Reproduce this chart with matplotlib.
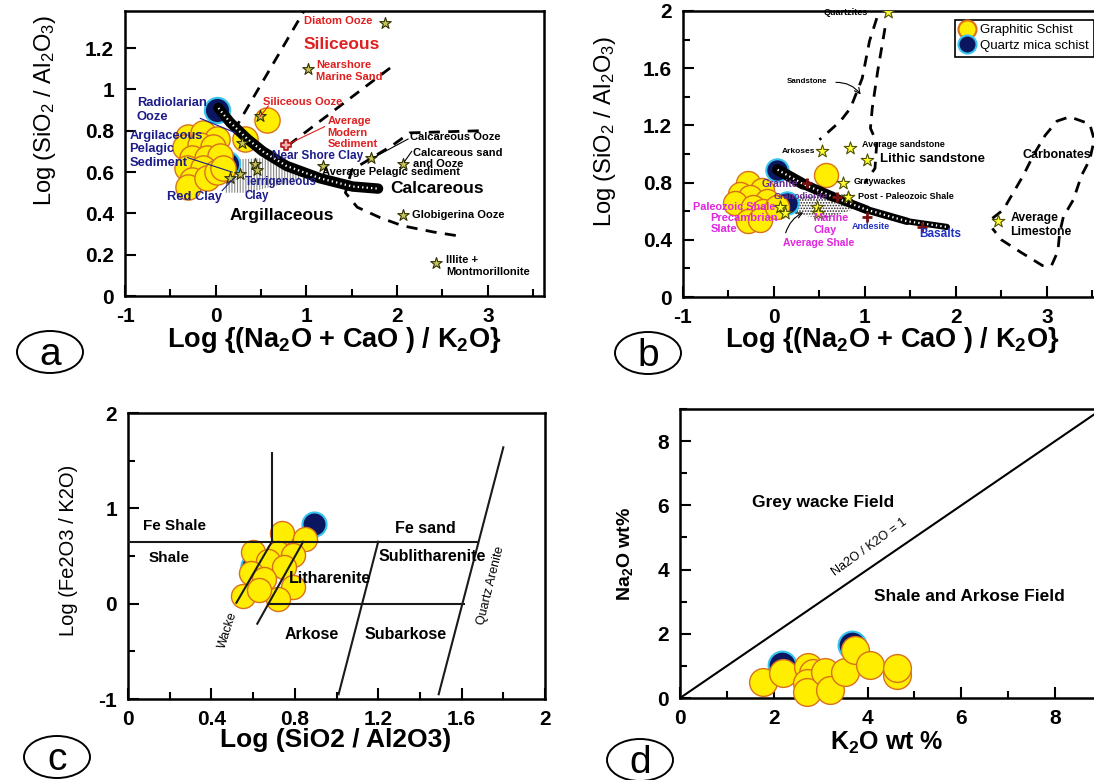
import matplotlib
matplotlib.use("Agg")
import matplotlib.pyplot as plt
from matplotlib.lines import Line2D
from matplotlib.patches import Ellipse, Polygon
from matplotlib.ticker import MultipleLocator, FuncFormatter

plt.rcParams["font.family"] = ["Liberation Sans", "DejaVu Sans"]
plt.rcParams["font.weight"] = "bold"
plt.rcParams["mathtext.fontset"] = "custom"
plt.rcParams["mathtext.rm"] = "Liberation Sans"
plt.rcParams["mathtext.bf"] = "Liberation Sans:bold"
plt.rcParams["mathtext.default"] = "regular"
plt.rcParams["hatch.linewidth"] = 0.8

# ---- (a) Potter-type diagram for modern sediments ----
A_GS_X = [-0.31, -0.14, 0.01, -0.34, -0.17, -0.03, -0.26, -0.10, 0.05,
          -0.32, -0.14, -0.26, -0.31, -0.10, 0.01, 0.08, 0.32, 0.57]
A_GS_Y = [0.77, 0.79, 0.76, 0.72, 0.73, 0.72, 0.67, 0.67, 0.68,
          0.62, 0.62, 0.56, 0.53, 0.57, 0.60, 0.62, 0.76, 0.85]
A_QM_X = [0.01, 0.12]
A_QM_Y = [0.90, 0.64]
A_STAR_X = [1.87, 1.02, 0.49, 1.71, 2.07, 1.18, 2.07, 2.43, 0.29, 0.43, 0.45, 0.16, 0.27]
A_STAR_Y = [1.32, 1.10, 0.87, 0.67, 0.64, 0.63, 0.39, 0.16, 0.74, 0.64, 0.61, 0.57, 0.59]
A_AMS_X = [0.78]
A_AMS_Y = [0.73]
A_TREND_X = [0.03, 0.16, 0.35, 0.52, 0.78, 1.15, 1.51, 1.79]
A_TREND_Y = [0.91, 0.84, 0.76, 0.70, 0.63, 0.57, 0.53, 0.52]
A_CLAY_FIELD = [(0.10, 0.66), (0.70, 0.67), (1.00, 0.60), (0.90, 0.56),
                (0.35, 0.50), (0.10, 0.50)]
A_SIL_LEFT_X = [0.20, 1.00]
A_SIL_LEFT_Y = [0.80, 1.40]
A_SIL_RIGHT_X = [0.80, 1.94]
A_SIL_RIGHT_Y = [0.73, 1.11]
A_CALC_X = [2.90, 2.14, 1.95, 1.50, 1.43, 1.56, 1.81, 2.06, 2.40, 2.69]
A_CALC_Y = [0.80, 0.79, 0.73, 0.61, 0.50, 0.43, 0.38, 0.34, 0.31, 0.29]

# ---- (b) Potter-type diagram for rock types ----
B_GS_X = [-0.29, -0.37, -0.13, -0.26, -0.43, -0.08, -0.23, -0.12, -0.29, -0.15, 0.03, 0.57]
B_GS_Y = [0.80, 0.72, 0.75, 0.70, 0.66, 0.67, 0.63, 0.60, 0.53, 0.54, 0.63, 0.85]
B_QM_X = [0.03, 0.14]
B_QM_Y = [0.89, 0.66]
B_STAR_X = [1.25, 0.53, 0.84, 1.02, 0.76, 0.81, 0.07, 0.12, 0.47, 0.48, 2.46]
B_STAR_Y = [1.99, 1.02, 1.04, 0.96, 0.80, 0.70, 0.63, 0.59, 0.63, 0.59, 0.53]
B_CROSS_X = [0.36, 0.69, 1.02, 1.63]
B_CROSS_Y = [0.80, 0.70, 0.56, 0.49]
B_TREND_X = [0.04, 0.32, 0.65, 1.02, 1.46, 1.90]
B_TREND_Y = [0.89, 0.79, 0.70, 0.61, 0.53, 0.49]
B_SHALE_FIELD = [(0.15, 0.70), (0.50, 0.71), (0.85, 0.72), (0.90, 0.62),
                 (0.60, 0.55), (0.30, 0.57), (0.15, 0.60)]
B_SAND_LEFT_X = [1.13, 1.05, 0.97, 0.84, 0.73, 0.59, 0.50]
B_SAND_LEFT_Y = [1.95, 1.79, 1.53, 1.32, 1.23, 1.15, 1.10]
B_SAND_RIGHT_X = [1.22, 1.14, 1.08, 1.06, 1.13, 1.11, 1.00]
B_SAND_RIGHT_Y = [1.88, 1.58, 1.32, 1.18, 1.08, 0.90, 0.80]
B_CARB_X = [2.40, 2.52, 2.63, 2.74, 2.85, 2.98, 3.11, 3.25, 3.47, 3.52, 3.47,
            3.38, 3.29, 3.18, 3.14, 3.12, 3.05, 2.95, 2.72, 2.50, 2.40]
B_CARB_Y = [0.55, 0.61, 0.73, 0.85, 0.99, 1.13, 1.23, 1.26, 1.21, 1.10, 0.96,
            0.85, 0.68, 0.56, 0.45, 0.32, 0.22, 0.22, 0.31, 0.40, 0.48]

# ---- (c) Herron classification ----
C_GS_X = [0.74, 0.85, 0.60, 0.72, 0.79, 0.67, 0.75, 0.59, 0.65, 0.79, 0.55, 0.72, 0.63]
C_GS_Y = [0.74, 0.68, 0.54, 0.53, 0.51, 0.45, 0.38, 0.32, 0.26, 0.17, 0.08, 0.05, 0.14]
C_QM_X = [0.60, 0.89]
C_QM_Y = [0.40, 0.84]
C_BOUNDARIES = [
    ([0.69, 0.69], [0.65, 1.58]),
    ([0.00, 1.68], [0.65, 0.65]),
    ([0.68, 1.61], [0.00, 0.00]),
    ([0.52, 0.69], [0.01, 0.65]),
    ([0.62, 0.84], [-0.21, 0.65]),
    ([1.01, 1.20], [-0.95, 0.65]),
    ([1.49, 1.80], [-0.95, 1.64]),
]

# ---- (d) Na2O vs K2O ----
D_GS_X = [1.77, 2.20, 2.73, 2.84, 2.70, 2.70, 3.09, 3.20, 3.52, 3.73, 4.05, 4.63, 4.63]
D_GS_Y = [0.50, 0.78, 0.97, 0.78, 0.47, 0.20, 0.81, 0.25, 0.81, 1.50, 1.03, 0.72, 0.93]
D_QM_X = [2.17, 3.67]
D_QM_Y = [1.03, 1.65]
D_RATIO_X = [0, 9]
D_RATIO_Y = [0, 9]

YELLOW = "#ffee00"
ORANGE = "#d9711c"
NAVY = "#0b1660"
CYAN = "#36c4ee"
RED = "#e02020"
DKBLUE = "#1c1c8a"
MAGENTA = "#e024e0"

fig = plt.figure(figsize=(10.94, 7.80), dpi=100)
ax_a = fig.add_axes([0.1143, 0.6205, 0.3830, 0.3654])
ax_b = fig.add_axes([0.6243, 0.6192, 0.3826, 0.3667])
ax_c = fig.add_axes([0.1170, 0.1038, 0.3812, 0.3667])
ax_d = fig.add_axes([0.6216, 0.1051, 0.3857, 0.3705])

fmt = FuncFormatter(lambda v, p: "%g" % round(v, 2))


def style_axes(ax, xlim, ylim, xmaj, xmin, ymaj, ymin):
    ax.set_xlim(*xlim)
    ax.set_ylim(*ylim)
    ax.xaxis.set_major_locator(MultipleLocator(xmaj))
    ax.yaxis.set_major_locator(MultipleLocator(ymaj))
    if xmin:
        ax.xaxis.set_minor_locator(MultipleLocator(xmin))
    if ymin:
        ax.yaxis.set_minor_locator(MultipleLocator(ymin))
    ax.xaxis.set_major_formatter(fmt)
    ax.yaxis.set_major_formatter(fmt)
    ax.tick_params(which="both", direction="in", width=1.5, top=False, right=False)
    ax.tick_params(which="major", length=8, labelsize=15, pad=8)
    ax.tick_params(which="minor", length=5)
    for sp in ax.spines.values():
        sp.set_linewidth(1.8)


def schist_points(ax, gx, gy, qx, qy, s=330, qs=None, clip=True):
    ax.scatter(qx, qy, s=qs or s, c=NAVY, edgecolors=CYAN, linewidths=1.5, zorder=3,
               clip_on=clip)
    ax.scatter(gx, gy, s=s, c=YELLOW, edgecolors=ORANGE, linewidths=1.0, zorder=3,
               clip_on=clip)


def beaded_line(ax, x, y, lw, lw_end=None):
    # black band (optionally tapering) with a dotted white core
    if lw_end is None:
        ax.plot(x, y, color="black", lw=lw, solid_capstyle="round", zorder=5)
    else:
        n = len(x) - 1
        for i in range(n):
            w = lw + (lw_end - lw) * i / max(n - 1, 1)
            ax.plot(x[i:i + 2], y[i:i + 2], color="black", lw=w,
                    solid_capstyle="round", zorder=5)
    ax.plot(x, y, color="white", lw=1.6, ls=(0, (0.6, 1.4)), zorder=6)


def note(ax, x, y, s, color="black", size=8, **kw):
    ax.text(x, y, s, color=color, fontsize=size, fontweight="bold", zorder=8, **kw)


def leader(ax, p0, p1, color="black"):
    ax.plot([p0[0], p1[0]], [p0[1], p1[1]], color=color, lw=0.8, zorder=7)


dash = dict(color="black", lw=2.0, ls=(0, (4, 3)), zorder=2)

# (a)
ax = ax_a
style_axes(ax, (-1, 3.62), (0, 1.38), 1, 0.5, 0.2, None)
ax.plot(A_SIL_LEFT_X, A_SIL_LEFT_Y, **dash)
ax.plot(A_SIL_RIGHT_X, A_SIL_RIGHT_Y, **dash)
ax.plot(A_CALC_X, A_CALC_Y, **dash)
ax.add_patch(Polygon(A_CLAY_FIELD, closed=True, fill=False, edgecolor="#888888",
                     lw=0, hatch="||||||", zorder=2))
schist_points(ax, A_GS_X, A_GS_Y, A_QM_X, A_QM_Y)
beaded_line(ax, A_TREND_X, A_TREND_Y, 7.5)
ax.scatter(A_STAR_X, A_STAR_Y, marker="*", s=75, c="#c8c45a", edgecolors="#303000",
           linewidths=0.8, zorder=7)
ax.scatter(A_AMS_X, A_AMS_Y, marker="P", s=60, c="#f2b0b0", edgecolors="#b01818",
           linewidths=1.2, zorder=7)

note(ax, 1.35, 1.33, "Diatom Ooze", RED, ha="center", va="center")
note(ax, 1.39, 1.22, "Siliceous", RED, size=12.5, ha="center", va="center")
note(ax, 1.11, 1.09, "Nearshore\nMarine Sand", RED, ha="left", va="center")
note(ax, 0.52, 0.94, "Siliceous Ooze", RED, ha="left", va="center")
leader(ax, (0.58, 0.92), (0.49, 0.87), RED)
note(ax, 1.23, 0.79, "Average\nModern\nSediment", RED, ha="left", va="center")
leader(ax, (1.20, 0.82), (0.82, 0.74), RED)
note(ax, 1.12, 0.68, "Near Shore Clay", DKBLUE, size=8.5, ha="center", va="center")
note(ax, 2.14, 0.77, "Calcareous Ooze", ha="left", va="center")
leader(ax, (2.12, 0.76), (1.74, 0.67))
note(ax, 2.18, 0.665, "Calcareous sand\nand Ooze", ha="left", va="center")
leader(ax, (2.16, 0.70), (2.08, 0.65))
note(ax, 1.17, 0.60, "Average Pelagic sediment", ha="left", va="center")
note(ax, 2.44, 0.52, "Calcareous", size=12.5, ha="center", va="center")
note(ax, 0.73, 0.39, "Argillaceous", size=12.5, ha="center", va="center")
note(ax, 2.16, 0.39, "Globigerina Ooze", ha="left", va="center")
note(ax, 2.54, 0.145, "Illite +\nMontmorillonite", ha="left", va="center")
note(ax, -0.87, 0.90, "Radiolarian\nOoze", DKBLUE, size=9.3, ha="left", va="center")
leader(ax, (-0.17, 0.86), (0.22, 0.79), DKBLUE)
note(ax, -0.95, 0.71, "Argilaceous\nPelagic\nSediment", DKBLUE, size=9.3, ha="left",
     va="center")
leader(ax, (-0.31, 0.67), (0.18, 0.60), DKBLUE)
note(ax, -0.54, 0.48, "Red Clay", DKBLUE, size=9.3, ha="left", va="center")
leader(ax, (0.07, 0.51), (0.20, 0.57), DKBLUE)
note(ax, 0.32, 0.52, "Terrigeneous\nClay", DKBLUE, size=8.3, ha="left", va="center")

# (b)
ax = ax_b
style_axes(ax, (-1, 3.6), (0, 2.0), 1, 0.5, 0.4, 0.2)
ax.plot(B_SAND_LEFT_X, B_SAND_LEFT_Y, **dash)
ax.plot(B_SAND_RIGHT_X, B_SAND_RIGHT_Y, **dash)
ax.plot(B_CARB_X, B_CARB_Y, **dash)
ax.add_patch(Polygon(B_SHALE_FIELD, closed=True, fill=False, edgecolor="#222222",
                     lw=0, hatch="......", zorder=2))
schist_points(ax, B_GS_X, B_GS_Y, B_QM_X, B_QM_Y, s=300, qs=260)
beaded_line(ax, B_TREND_X, B_TREND_Y, 8, 4.5)
ax.scatter(B_CROSS_X, B_CROSS_Y, marker="+", s=60, c="#7a1010", linewidths=2.0, zorder=7)
ax.scatter(B_STAR_X, B_STAR_Y, marker="*", s=90, c="#ffff30", edgecolors="#505000",
           linewidths=0.8, zorder=7)

note(ax, 1.03, 1.99, "Quartzites", size=6.5, ha="right", va="center")
note(ax, 0.36, 1.51, "Sandstone", size=5.7, ha="center", va="center")
ax.annotate("", xy=(0.97, 1.40), xytext=(0.65, 1.50), zorder=7,
            arrowprops=dict(arrowstyle="->", color="black", lw=0.8,
                            connectionstyle="arc3,rad=-0.3"))
note(ax, 0.45, 1.02, "Arkoses", size=6, ha="right", va="center")
note(ax, 0.97, 1.07, "Average sandstone", size=6.5, ha="left", va="center")
note(ax, 1.16, 0.965, "Lithic sandstone", size=9.5, ha="left", va="center")
note(ax, 0.87, 0.81, "Graywackes", size=6.5, ha="left", va="center")
note(ax, 0.92, 0.70, "Post - Paleozoic Shale", size=6.5, ha="left", va="center")
note(ax, 3.11, 0.99, "Carbonates", size=9, ha="center", va="center")
note(ax, 2.60, 0.505, "Average\nLimestone", size=8.8, ha="left", va="center")
note(ax, 0.07, 0.79, "Granite", "#6a2c91", size=7.5, ha="center", va="center")
note(ax, 0.29, 0.70, "Granodiorite", "#6a2c91", size=6.5, ha="center", va="center")
note(ax, -0.89, 0.63, "Paleozoic Shale", MAGENTA, size=7.8, ha="left", va="center")
note(ax, -0.70, 0.515, "Precambrian\nSlate", MAGENTA, size=8, ha="left", va="center")
note(ax, 0.43, 0.51, "Marine\nClay", MAGENTA, size=7.8, ha="left", va="center")
note(ax, 0.86, 0.49, "Andesite", "#2030c0", size=6.5, ha="left", va="center")
note(ax, 1.60, 0.44, "Basalts", "#2030c0", size=8.5, ha="left", va="center")
note(ax, 0.10, 0.38, "Average Shale", MAGENTA, size=7.5, ha="left", va="center")
ax.annotate("", xy=(0.35, 0.60), xytext=(0.12, 0.43), zorder=7,
            arrowprops=dict(arrowstyle="->", color="black", lw=0.8,
                            connectionstyle="arc3,rad=-0.25"))

handles = [
    Line2D([], [], ls="none", marker="o", ms=13, mfc=YELLOW, mec=ORANGE, mew=1.5),
    Line2D([], [], ls="none", marker="o", ms=13, mfc=NAVY, mec=CYAN, mew=1.5),
]
leg = ax.legend(handles, ["Graphitic Schist", "Quartz mica schist"], loc="upper left",
                bbox_to_anchor=(0.633, 0.993), frameon=True, fancybox=False,
                edgecolor="black", framealpha=1, borderpad=0.35, handletextpad=0.4,
                labelspacing=0.25, handlelength=1.2,
                prop={"family": "Liberation Sans", "size": 9.5, "weight": "normal"})
leg.get_frame().set_linewidth(1.2)
leg.set_zorder(10)

# (c)
ax = ax_c
style_axes(ax, (0, 2), (-1, 2), 0.4, 0.2, 1, 0.5)
for bx, by in C_BOUNDARIES:
    ax.plot(bx, by, color="#1a1a1a", lw=1.5, zorder=5)
schist_points(ax, C_GS_X, C_GS_Y, C_QM_X, C_QM_Y, s=300)
note(ax, 0.07, 0.81, "Fe Shale", size=11, ha="left", va="center")
note(ax, 0.10, 0.48, "Shale", size=11, ha="left", va="center")
note(ax, 1.28, 0.79, "Fe sand", size=11.5, ha="left", va="center")
note(ax, 1.20, 0.49, "Sublitharenite", size=11.5, ha="left", va="center")
note(ax, 0.77, 0.26, "Litharenite", size=11.5, ha="left", va="center")
note(ax, 0.88, -0.32, "Arkose", size=11.5, ha="center", va="center")
note(ax, 1.33, -0.32, "Subarkose", size=11.5, ha="center", va="center")
ax.text(1.74, 0.19, "Quartz Arenite", fontsize=9, fontweight="normal", rotation=76,
        ha="center", va="center", zorder=8)
ax.text(0.48, -0.28, "Wacke", fontsize=9, fontweight="normal", rotation=72,
        ha="center", va="center", zorder=8)

# (d)
ax = ax_d
style_axes(ax, (0, 9), (0, 9), 2, 1, 2, 1)
ax.plot(D_RATIO_X, D_RATIO_Y, color="black", lw=1.5, zorder=2)
schist_points(ax, D_GS_X, D_GS_Y, D_QM_X, D_QM_Y, s=400, clip=False)
note(ax, 3.05, 6.1, "Grey wacke Field", size=12.5, ha="center", va="center")
note(ax, 6.18, 3.15, "Shale and Arkose Field", size=12.5, ha="center", va="center")
ax.text(4.05, 4.7, "Na2O / K2O = 1", fontsize=9, fontweight="normal", rotation=36,
        ha="center", va="center", rotation_mode="anchor")

# axis titles
xlab_a = r"Log {(Na$_2$O + CaO ) / K$_2$O}"
for ax, y in [(ax_a, -0.10), (ax_b, -0.098)]:
    ax.set_xlabel(xlab_a, fontsize=19.5, fontweight="bold")
    ax.xaxis.set_label_coords(0.50, y)
for ax, x, y in [(ax_a, -0.16, 0.65), (ax_b, -0.155, 0.58)]:
    ax.set_ylabel(r"Log (SiO$_2$ / Al$_2$O$_3$)", fontsize=17, fontweight="normal")
    ax.yaxis.set_label_coords(x, y)
ax_c.set_xlabel("Log (SiO2 / Al2O3)", fontsize=19, fontweight="bold")
ax_c.xaxis.set_label_coords(0.497, -0.10)
ax_c.set_ylabel("Log (Fe2O3 / K2O)", fontsize=14.5, fontweight="normal")
ax_c.yaxis.set_label_coords(-0.12, 0.52)
ax_d.set_xlabel(r"K$_2$O wt %", fontsize=18, fontweight="bold")
ax_d.xaxis.set_label_coords(0.49, -0.11)
ax_d.set_ylabel(r"Na$_2$O wt%", fontsize=14, fontweight="bold")
ax_d.yaxis.set_label_coords(-0.107, 0.50)

# circled panel letters
for letter, cx, cy in [("a", 50, 352), ("b", 648, 353), ("c", 57, 757), ("d", 640, 760)]:
    fx, fy = cx / 1094, 1 - cy / 780
    fig.add_artist(Ellipse((fx, fy), 66 / 1094, 42 / 780, transform=fig.transFigure,
                           fill=False, edgecolor="black", lw=1.4))
    fig.text(fx, fy - 0.004, letter, fontsize=28, fontweight="normal", ha="center",
             va="center")

fig.canvas.draw()
for ax in (ax_a, ax_b, ax_c, ax_d):
    for lab in ax.get_xticklabels() + ax.get_yticklabels():
        lab.set_fontweight("bold")

fig.savefig("out.png", dpi=100)
